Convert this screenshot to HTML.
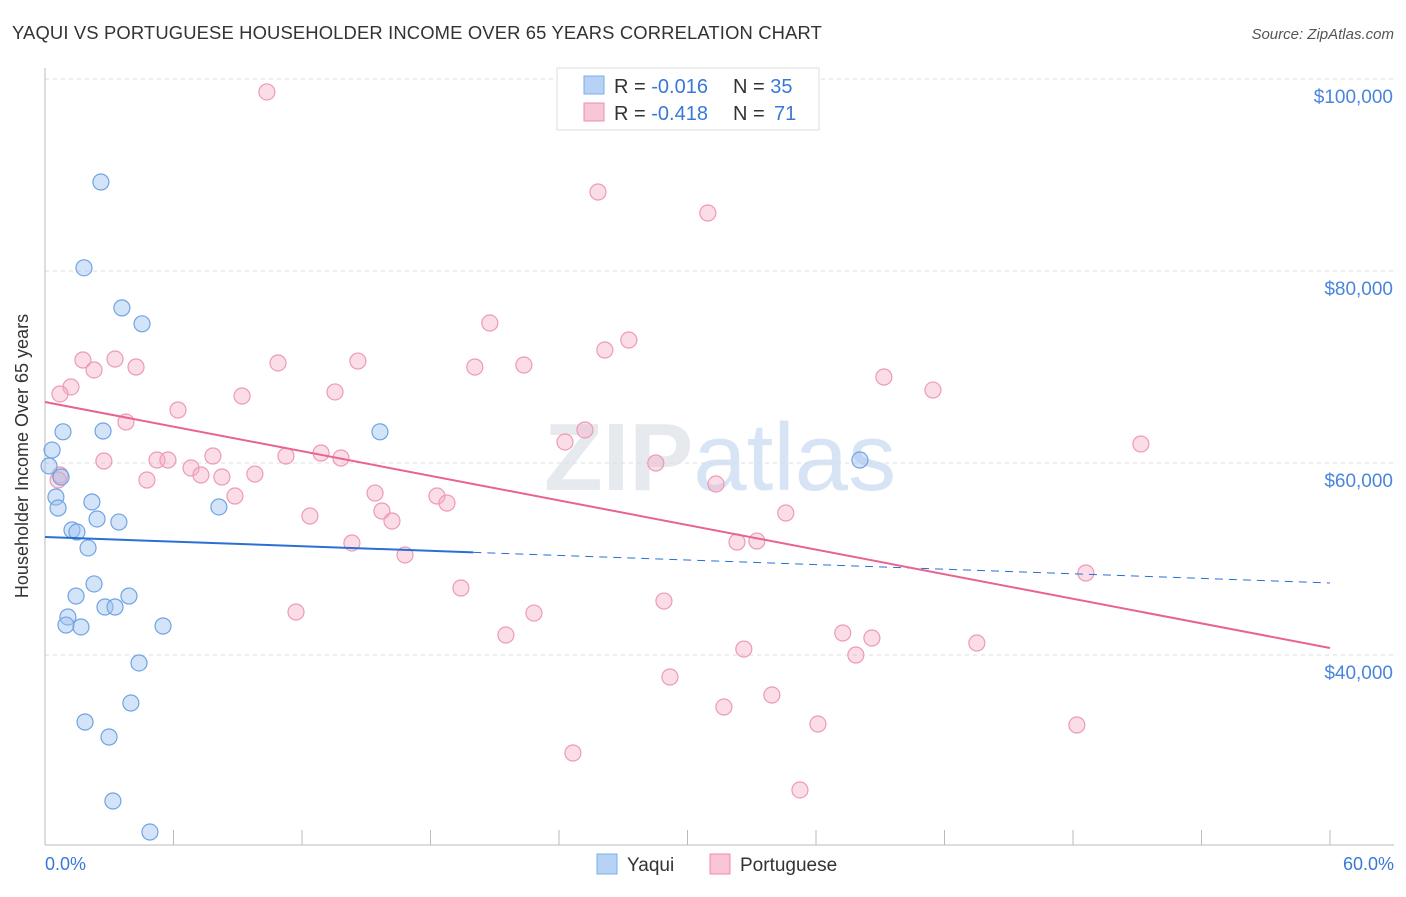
<!DOCTYPE html>
<html><head><meta charset="utf-8"><style>
body{margin:0;background:#fff;font-family:"Liberation Sans",sans-serif}
svg text{font-family:"Liberation Sans",sans-serif}
</style></head><body>
<svg id="c" width="1406" height="892" xmlns="http://www.w3.org/2000/svg">
<text x="12" y="39" font-size="18.4" letter-spacing="0.15" fill="#333">YAQUI VS PORTUGUESE HOUSEHOLDER INCOME OVER 65 YEARS CORRELATION CHART</text>
<text x="1394" y="39" font-size="15" fill="#555" font-style="italic" text-anchor="end">Source: ZipAtlas.com</text>
<text x="720" y="490" font-size="96" fill="#e6eaef" text-anchor="middle" font-weight="bold">ZIP<tspan fill="#d6e4f5" font-weight="normal">atlas</tspan></text>
<g id="grid"></g><g id="marks"></g>
<text x="28" y="456" font-size="18" fill="#333" text-anchor="middle" transform="rotate(-90 28 456)">Householder Income Over 65 years</text>
<text x="45" y="870" font-size="18" fill="#3a78d8">0.0%</text>
<text x="1394" y="870" font-size="18" fill="#3a78d8" text-anchor="end">60.0%</text>
<g>
<rect x="557" y="68" width="262" height="62" fill="#fff" stroke="#ddd"/>
<rect x="584" y="76" width="20" height="18" fill="#b6d2f4" stroke="#7aaee8"/>
<rect x="584" y="103" width="20" height="18" fill="#f8c6d4" stroke="#ee8eab"/>
<text x="614" y="93" font-size="20" fill="#333">R = <tspan fill="#3a78d8">-0.016</tspan></text>
<text x="733" y="93" font-size="20" fill="#333">N = <tspan fill="#3a78d8">35</tspan></text>
<text x="614" y="120" font-size="20" fill="#333">R = <tspan fill="#3a78d8">-0.418</tspan></text>
<text x="733" y="120" font-size="20" fill="#333">N = <tspan fill="#3a78d8" x="774">71</tspan></text>
</g>
<g>
<rect x="597" y="854" width="20" height="20" fill="#b6d2f4" stroke="#7aaee8"/>
<text x="627" y="871" font-size="19" fill="#333">Yaqui</text>
<rect x="710" y="854" width="20" height="20" fill="#f8c6d4" stroke="#ee8eab"/>
<text x="740" y="871" font-size="19" fill="#333">Portuguese</text>
</g>
</svg>
<script>
const yTicks=[40000,60000,80000,100000];
const yTickLabels=["$40,000","$60,000","$80,000","$100,000"];
const yaquiX=[2.61,1.82,3.59,4.53,15.64,0.84,2.71,0.33,0.19,0.75,0.51,0.61,2.19,2.43,3.45,8.12,1.26,1.49,2.01,2.29,1.45,3.92,2.80,3.27,1.07,0.98,1.68,5.51,4.39,1.87,4.01,2.99,3.17,4.90,38.05];
const yaquiY=[89270,80330,76160,74500,63250,63250,63330,61350,59690,58540,56460,55310,55940,54170,53850,55420,53020,52810,51150,47400,46140,46140,45000,45000,43960,43120,42920,43020,39170,33020,35000,31460,24790,21560,60310];
const portX=[10.36,25.82,30.95,20.77,27.26,26.14,1.77,3.27,2.29,4.25,10.88,14.61,20.07,22.36,39.17,41.46,1.21,0.70,9.20,13.54,6.21,3.78,25.21,24.28,51.17,2.75,5.23,5.74,7.84,11.25,12.89,13.82,28.52,6.82,7.28,8.26,9.80,4.76,0.70,0.61,31.33,8.87,15.41,18.30,18.77,15.73,16.20,12.37,34.59,14.33,16.81,32.31,33.24,19.42,11.72,22.83,28.90,21.52,37.25,38.61,37.86,43.51,32.63,29.18,48.60,33.94,31.70,36.09,48.18,24.65,35.25];
const portY=[98650,88230,86040,74580,72810,71770,70730,70830,69690,70000,70420,70620,70000,70210,68960,67600,67920,67190,66980,67400,65520,64270,63440,62190,61980,60210,60310,60310,60730,60730,61040,60520,60000,59480,58750,58540,58850,58230,58750,58230,57810,56560,56870,56560,55830,55000,53960,54480,54790,51670,50420,51770,51870,46980,44480,44370,45620,42080,42290,41770,40000,41250,40620,37710,48540,35830,34580,32810,32710,29790,25940];
const yaquiTrend=[52290,47500];
const portTrend=[66350,40730];
const NS="http://www.w3.org/2000/svg";
const X=v=>45+(v/60)*1285;
const Y=v=>79+(100000-v)*192/20000;
function mk(tag,attrs,parent){const e=document.createElementNS(NS,tag);for(const k in attrs)e.setAttribute(k,attrs[k]);parent.appendChild(e);return e;}
const grid=document.getElementById('grid'),marks=document.getElementById('marks');
yTicks.forEach((t,i)=>{
 const l=mk('line',{x1:45,x2:1394,y1:Y(t),y2:Y(t),stroke:'#ddd','stroke-dasharray':'4,4'},grid);
 
 
 const tx=mk('text',{x:1393,y:Y(t)+24,'font-size':19,fill:'#4a85dc','text-anchor':'end'},grid);
 tx.textContent=yTickLabels[i];
 
 
});
const ax=mk('line',{x1:45,x2:1394,y1:845,y2:845,stroke:'#bbb'},grid);


const ay=mk('line',{x1:45,x2:45,y1:68,y2:845,stroke:'#bbb'},grid);


for(let i=0;i<=10;i++){
 const t=mk('line',{x1:X(i*6),x2:X(i*6),y1:830,y2:845,stroke:'#bbb'},grid);
 
 
}
portX.forEach((x,i)=>{
 const c=mk('circle',{cx:X(x),cy:Y(portY[i]),r:8,fill:'rgba(244,170,194,0.4)',stroke:'#ee9ab4','stroke-width':1.2},marks);
 
 
});
yaquiX.forEach((x,i)=>{
 const c=mk('circle',{cx:X(x),cy:Y(yaquiY[i]),r:8,fill:'rgba(160,196,240,0.45)',stroke:'#6fa3e4','stroke-width':1.2},marks);
 
 
});
const yAt=(tr,x)=>tr[0]+(tr[1]-tr[0])*x/60;
const b1=mk('line',{x1:X(0),y1:Y(yAt(yaquiTrend,0)),x2:X(20),y2:Y(yAt(yaquiTrend,20)),stroke:'#2a6fd6','stroke-width':2},marks);


const b2=mk('line',{x1:X(20),y1:Y(yAt(yaquiTrend,20)),x2:X(60),y2:Y(yAt(yaquiTrend,60)),stroke:'#2a6fd6','stroke-width':1,'stroke-dasharray':'8,6'},marks);


const p1=mk('line',{x1:X(0),y1:Y(yAt(portTrend,0)),x2:X(60),y2:Y(yAt(portTrend,60)),stroke:'#e8638f','stroke-width':2},marks);


</script>
</body></html>
